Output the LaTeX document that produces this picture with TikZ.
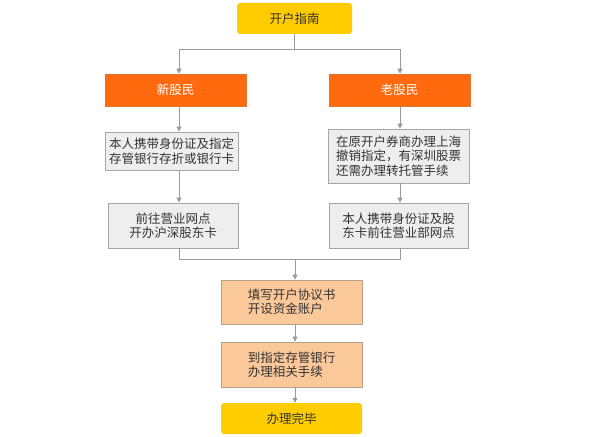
\documentclass[tikz,border=0pt]{standalone}
\usepackage{fontspec}
\setmainfont{Noto Sans CJK SC}
\usetikzlibrary{arrows.meta}
\definecolor{txt}{HTML}{333333}
\definecolor{yel}{HTML}{FFCC00}
\definecolor{org}{HTML}{FF6A0F}
\definecolor{orgb}{HTML}{E0752E}
\definecolor{gry}{HTML}{EEEEEE}
\definecolor{gryb}{HTML}{A6A6A6}
\definecolor{pch}{HTML}{FBC899}
\definecolor{pchb}{HTML}{B8A08A}
\definecolor{ln}{HTML}{999999}
\tikzset{
  every node/.style={font=\fontsize{12.5}{14.5}\selectfont, text=txt, inner sep=0pt},
  ybox/.style={fill=yel, rounded corners=3pt},
  obox/.style={fill=org, draw=orgb, line width=0.6pt, text=white},
  gbox/.style={fill=gry, draw=gryb, line width=0.8pt},
  pbox/.style={fill=pch, draw=pchb, line width=0.8pt},
  conn/.style={draw=ln, line width=0.8pt},
  arr/.style={conn, -{Triangle[length=5pt,width=5pt]}},
}
\begin{document}
\begin{tikzpicture}[x=1pt,y=-1pt]
\useasboundingbox (0,0) rectangle (599,436);
\fill[white] (0,0) rectangle (599,436);
% nodes
\node[ybox, minimum width=115pt, minimum height=31pt] (top) at (294.5,18.5) {开户指南};
\node[obox, minimum width=141pt, minimum height=32pt] (new) at (175.5,90) {新股民};
\node[obox, minimum width=141pt, minimum height=32pt] (old) at (399.5,90) {老股民};
\node[gbox, minimum width=133pt, minimum height=38pt, align=center] (l1) at (171.5,151) {本人携带身份证及指定\\存管银行存折或银行卡};
\node[gbox, minimum width=130pt, minimum height=45pt, align=center] (l2) at (173,225.5) {前往营业网点\\开办沪深股东卡};
\node[gbox, minimum width=141pt, minimum height=54pt, align=left] (r1) at (398.5,156) {在原开户券商办理上海\\撤销指定，有深圳股票\\还需办理转托管手续};
\node[gbox, minimum width=139pt, minimum height=45pt, align=center] (r2) at (398.5,225.5) {本人携带身份证及股\\东卡前往营业部网点};
\node[pbox, minimum width=141pt, minimum height=44pt, align=left] (b3) at (291.5,302) {填写开户协议书\\开设资金账户};
\node[pbox, minimum width=141pt, minimum height=45pt, align=left] (b4) at (291.5,364.5) {到指定存管银行\\办理相关手续};
\node[ybox, minimum width=141pt, minimum height=31pt] (fin) at (291.5,418.5) {办理完毕};
% helper coordinates
\coordinate (xl) at (179,0);
\coordinate (xr) at (400,0);
\coordinate (xc) at (294.5,0);
\coordinate (xb) at (295,0);
\coordinate (split) at (294.5,49);
\coordinate (merge) at (295,259);
% connectors
\draw[conn] (top.south) -- (split);
\draw[conn] (split -| xl) -- (split -| xr);
\draw[arr] (split -| xl) -- (new.north -| xl);
\draw[arr] (split -| xr) -- (old.north -| xr);
\draw[arr] (new.south -| xl) -- (l1.north -| xl);
\draw[arr] (old.south -| xr) -- (r1.north -| xr);
\draw[arr] (l1.south -| xl) -- (l2.north -| xl);
\draw[arr] (r1.south -| xr) -- (r2.north -| xr);
\draw[conn] (l2.south -| xl) -- (merge -| xl) -- (merge -| xr) -- (r2.south -| xr);
\draw[arr] (merge) -- (b3.north -| xb);
\draw[arr] (b3.south -| xb) -- (b4.north -| xb);
\draw[arr] (b4.south -| xb) -- (fin.north -| xb);
\end{tikzpicture}
\end{document}
